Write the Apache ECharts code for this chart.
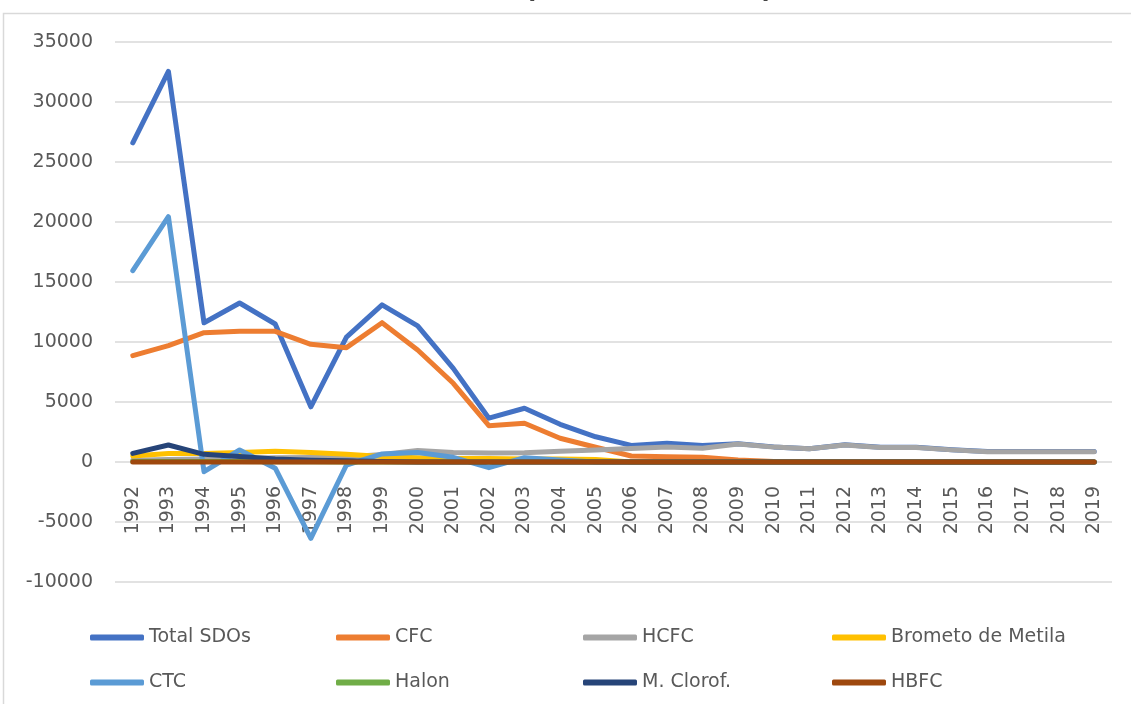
<!DOCTYPE html>
<html>
<head>
<meta charset="utf-8">
<script src="https://cdn.jsdelivr.net/npm/echarts@6/dist/echarts.min.js"></script>
<style>
  html, body { margin: 0; padding: 0; background: #fff; }
  #the-echart { width: 1131px; height: 704px; }
</style>
</head>
<body>
<div id="the-echart"></div>
<script>
// anos
let years = ['1992', '1993', '1994', '1995', '1996', '1997', '1998', '1999', '2000', '2001',
  '2002', '2003', '2004', '2005', '2006', '2007', '2008', '2009', '2010', '2011',
  '2012', '2013', '2014', '2015', '2016', '2017', '2018', '2019']

let totalSDOs = [26600, 32550, 11600, 13250, 11500, 4600, 10400, 13100, 11350, 7800,
  3650, 4480, 3140, 2100, 1380, 1570, 1380, 1520, 1260, 1110,
  1440, 1220, 1220, 1030, 880, 880, 880, 880]
let cfc = [8860, 9700, 10780, 10890, 10890, 9810, 9530, 11610, 9330, 6560,
  3030, 3230, 1980, 1230, 500, 440, 390, 170, 50, 30,
  20, 10, 10, 0, 0, 0, 0, 0]
let hcfc = [150, 200, 250, 300, 350, 380, 420, 620, 950, 800,
  750, 780, 900, 1000, 1120, 1260, 1150, 1500, 1240, 1100,
  1420, 1200, 1200, 1010, 860, 860, 860, 860]
let brometo = [500, 700, 700, 800, 900, 800, 650, 450, 350, 300,
  300, 250, 250, 200, 0, 0, 0, 0, 0, 0,
  0, 0, 0, 0, 0, 0, 0, 0]
let ctc = [15940, 20440, -810, 1000, -520, -6360, -250, 670, 800, 390,
  -470, 360, 170, 0, 0, 0, 0, 0, 0, 0,
  0, 0, 0, 0, 0, 0, 0, 0]
let halon = [50, 50, 50, 50, 30, 20, 10, 0, 0, 0,
  0, 0, 0, 0, 0, 0, 0, 0, 0, 0,
  0, 0, 0, 0, 0, 0, 0, 0]
let clorof = [720, 1420, 640, 450, 250, 150, 100, 50, 0, 0,
  0, 0, 0, 0, 0, 0, 0, 0, 0, 0,
  0, 0, 0, 0, 0, 0, 0, 0]
let hbfc = [0, 0, 0, 0, 0, 0, 0, 0, 0, 0,
  0, 0, 0, 0, 0, 0, 0, 0, 0, 0,
  0, 0, 0, 0, 0, 0, 0, 0]

let yTicks = [-10000, 35000, 5000] // min, max, interval

let seriesList = [
  {name: 'Total SDOs', data: totalSDOs, color: '#4472C4'},
  {name: 'CFC', data: cfc, color: '#ED7D31'},
  {name: 'HCFC', data: hcfc, color: '#A5A5A5'},
  {name: 'Brometo de Metila', data: brometo, color: '#FFC000'},
  {name: 'CTC', data: ctc, color: '#5B9BD5'},
  {name: 'Halon', data: halon, color: '#70AD47'},
  {name: 'M. Clorof.', data: clorof, color: '#264478'},
  {name: 'HBFC', data: hbfc, color: '#9E480E'}
]

const FONT = 'DejaVu Sans'
let legendX = [85, 331, 578, 827]
let legendY = [623, 668]

let chart = echarts.init(document.getElementById('the-echart'))
chart.setOption({
  animation: false,
  textStyle: {fontFamily: FONT},
  graphic: [
    {
      type: 'rect',
      shape: {x: 3.5, y: 13.5, width: 1200, height: 800},
      style: {fill: 'none', stroke: '#d9d9d9', lineWidth: 1.5},
      silent: true
    },
    {
      // titulo cortado no topo, so aparecem os parenteses
      type: 'text',
      x: 649,
      y: 3,
      style: {
        text: '(toneladas PDO)',
        font: 'bold 27px "DejaVu Sans"',
        fill: '#000',
        align: 'center',
        verticalAlign: 'bottom'
      },
      silent: true
    }
  ],
  legend: seriesList.map((s, i) => {
    return {
      data: [s.name],
      left: legendX[i % 4],
      top: legendY[Math.floor(i / 4)],
      icon: 'roundRect',
      itemWidth: 54,
      itemHeight: 6,
      textStyle: {fontFamily: FONT, fontSize: 19, color: '#595959'},
      selectedMode: false
    }
  }),
  grid: {left: 115, right: 19, top: 42, bottom: 122, containLabel: false},
  xAxis: {
    type: 'category',
    data: years,
    boundaryGap: true,
    offset: -120,
    axisLine: {show: false, onZero: false},
    axisTick: {show: false},
    axisLabel: {rotate: 90, margin: 24, fontSize: 19, color: '#595959', fontFamily: FONT, interval: 0}
  },
  yAxis: {
    type: 'value',
    min: yTicks[0],
    max: yTicks[1],
    interval: yTicks[2],
    axisLine: {show: false},
    axisTick: {show: false},
    axisLabel: {
      margin: 22, fontSize: 19, color: '#595959', fontFamily: FONT,
      formatter: function(v) { return String(v) }
    },
    splitLine: {lineStyle: {color: '#d9d9d9', width: 1.5}}
  },
  series: seriesList.map((s) => {
    return {
      name: s.name,
      type: 'line',
      data: s.data,
      showSymbol: false,
      symbol: 'none',
      color: s.color,
      lineStyle: {width: 5, color: s.color, cap: 'round', join: 'round'}
    }
  })
})
</script>
</body>
</html>
